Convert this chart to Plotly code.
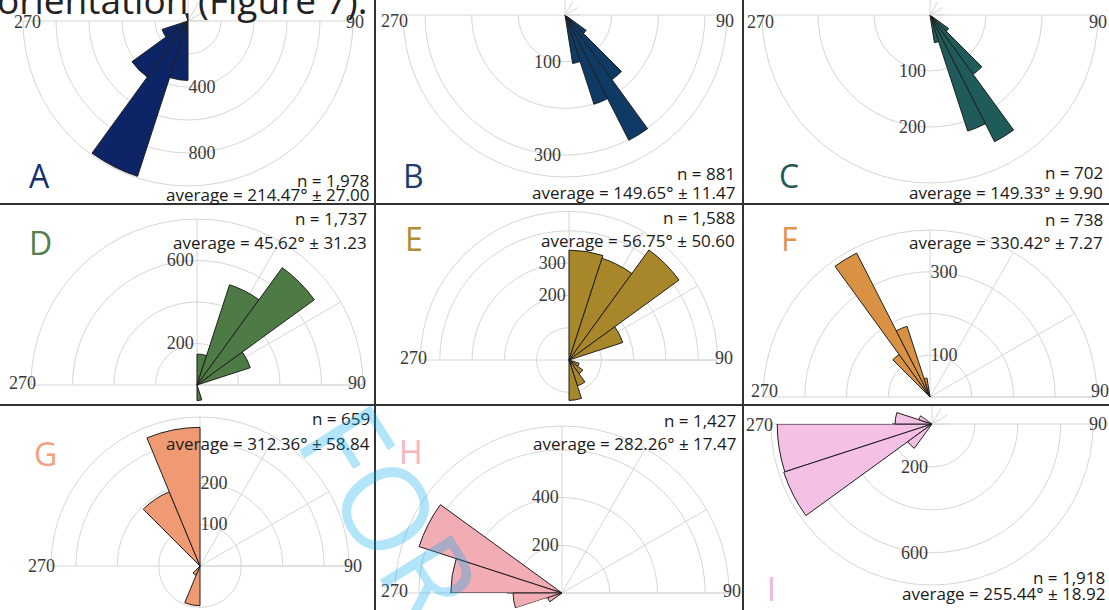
import numpy as np
import plotly.graph_objects as go

W, H = 1109, 610

# ---------------------------------------------------------------- data
panel_ids = ["A", "B", "C", "D", "E", "F", "G", "H", "I"]
n_obs = [1978, 881, 702, 1737, 1588, 738, 659, 1427, 1918]
mean_dir = [214.47, 149.65, 149.33, 45.62, 56.75, 330.42, 312.36, 282.26, 255.44]
sd_dir = [27.00, 11.47, 9.90, 31.23, 50.60, 7.27, 58.84, 17.47, 18.92]
bin_width = [18, 9, 9, 18, 18, 9, 22.5, 18, 18]

# bin centres (compass degrees) and counts per bin
a_theta = [189, 207, 225, 243, 351]
a_count = [360, 990, 420, 165, 45]
b_theta = [130.5, 139.5, 148.5, 157.5, 166.5]
b_count = [56, 171, 301, 201, 105]
c_theta = [130.5, 139.5, 148.5, 157.5, 166.5]
c_count = [41, 131, 254, 218, 50]
d_theta = [9, 27, 45, 63, 171]
d_count = [149, 508, 699, 270, 75]
e_theta = [9, 27, 45, 63, 117, 135, 153, 171]
e_count = [340, 331, 421, 175, 33, 53, 84, 125]
f_theta = [319.5, 328.5, 337.5, 346.5]
f_count = [126, 387, 178, 46]
g_theta = [326.25, 348.75, 191.25, 213.75]
g_count = [194, 335, 96, 24]
h_theta = [297, 279, 261, 243]
h_count = [630, 466, 205, 63]
i_theta = [261, 243, 225, 279, 297]
i_count = [721, 726, 140, 172, 65]

# radial rings and which of them carry a label
a_rings, a_ring_text = [200, 400, 600, 800], ["", "400", "", "800"]
b_rings, b_ring_text = [100, 200, 300], ["100", "", "300"]
c_rings, c_ring_text = [100, 200], ["100", "200"]
d_rings, d_ring_text = [200, 400, 600], ["200", "", "600"]
e_rings, e_ring_text = [100, 200, 300, 400], ["", "200", "300", ""]
f_rings, f_ring_text = [100, 200, 300], ["100", "", "300"]
g_rings, g_ring_text = [100, 200, 300], ["100", "200", ""]
h_rings, h_ring_text = [200, 400, 600], ["200", "400", ""]
i_rings, i_ring_text = [200, 400, 600], ["200", "", "600"]

# radial axis maximum of each rose
r_max = [1000, 347, 300, 800, 460, 400, 360, 700, 750]

thetas = [a_theta, b_theta, c_theta, d_theta, e_theta, f_theta, g_theta, h_theta, i_theta]
counts = [a_count, b_count, c_count, d_count, e_count, f_count, g_count, h_count, i_count]
rings = [a_rings, b_rings, c_rings, d_rings, e_rings, f_rings, g_rings, h_rings, i_rings]
ring_text = [a_ring_text, b_ring_text, c_ring_text, d_ring_text, e_ring_text,
             f_ring_text, g_ring_text, h_ring_text, i_ring_text]

# ---------------------------------------------------------------- style
GRID = "#d6d6d6"
EDGE = "#1e1e1e"
SANS = "Open Sans"
SERIF = "Liberation Serif"

bar_colors = ["#0d2566", "#103a66", "#1f5b58", "#4e7a45", "#a8872a",
              "#d99244", "#f09a74", "#f2acb3", "#f4c0e4"]
letter_colors = ["#1a2e6e", "#1c3f6b", "#1f5b58", "#557f4b", "#b08d30",
                 "#e0954a", "#f2a07e", "#f5b5bb", "#e9b6dc"]

# placement of each rose: centre (px), outer radius (px), opening, label side,
# plus the thin slices of the opposite half that stay visible inside the panel
geom = [
    dict(c=(188, 21), R=165, up=False, side="counterclockwise",
         bands=[((0, 180), 21)]),
    dict(c=(565, 15), R=162, up=False, side="clockwise",
         bands=[((0, 180), 15)]),
    dict(c=(930, 15), R=168, up=False, side="clockwise",
         bands=[((0, 180), 15)]),
    dict(c=(197, 385), R=166, up=True, side="counterclockwise",
         bands=[((180, 360), 19)]),
    dict(c=(569, 360), R=148.6, up=True, side="counterclockwise",
         bands=[((180, 360), 44)]),
    dict(c=(930, 397), R=167, up=True, side="clockwise",
         bands=[((180, 360), 8)]),
    dict(c=(200, 566), R=149, up=True, side="clockwise",
         bands=[((180, 360), 44)]),
    dict(c=(562, 593), R=167, up=True, side="counterclockwise",
         bands=[((180, 198), 55), ((198, 360), 17)]),
    dict(c=(932, 424), R=161, up=False, side="clockwise",
         bands=[((144, 180), 40), ((0, 144), 18)]),
]

letter_pos = [(39, 176), (413, 176), (789, 176), (40, 243), (414, 238),
              (789, 238), (45, 453), (411, 451), (771, 588)]
stat_pos = [(371, 180, 194), (737, 173, 192), (1105, 172, 192),
            (369, 218, 243), (737, 217, 240), (1105, 220, 243),
            (372, 418, 443), (738, 420, 443), (1107, 577, 593)]
compass_pos = [((27, 22), (355, 22)), ((394, 21), (725, 21)), ((760, 22), (1098, 22)),
               ((22, 383), (357, 383)), ((413, 358), (724, 358)), ((764, 391), (1100, 391)),
               ((41, 566), (353, 566)), ((394, 591), (732, 591)), ((759, 425), (1098, 424))]


def sector_bbox(s0, s1):
    """Unit bounding box of a pie sector, centre included."""
    angs = [s0, s1] + [a for a in (0, 90, 180, 270, 360) if s0 < a < s1]
    xs = [0.0] + [np.cos(np.radians(a)) for a in angs]
    ys = [0.0] + [np.sin(np.radians(a)) for a in angs]
    return min(xs), min(ys), max(xs), max(ys)


def polar_domain(cx, cy, R, sector):
    x0, y0, x1, y1 = sector_bbox(*sector)
    left, right = cx + R * x0, cx + R * x1
    top, bottom = cy - R * y1, cy - R * y0
    cl = lambda v: float(min(1.0, max(0.0, v)))
    return dict(x=[cl(left / W), cl(right / W)], y=[cl(1 - bottom / H), cl(1 - top / H)])


fig = go.Figure()
layout = dict(
    width=W, height=H, margin=dict(l=0, r=0, t=0, b=0),
    paper_bgcolor="white", plot_bgcolor="white", template="none",
    showlegend=False, annotations=[], shapes=[],
)

k = 0
for p in range(9):
    g = geom[p]
    cx, cy = g["c"]
    R = g["R"]
    scale = R / r_max[p]
    main_sector = (0, 180) if g["up"] else (180, 360)
    polars = [(main_sector, R, True)] + [(s, rr, False) for s, rr in g["bands"]]
    for sector, rad, is_main in polars:
        k += 1
        name = "polar" if k == 1 else f"polar{k}"
        fig.add_trace(go.Barpolar(
            theta=thetas[p], r=counts[p], width=bin_width[p],
            marker=dict(color=bar_colors[p], line=dict(color=EDGE, width=1)),
            subplot=name, hoverinfo="skip", showlegend=False,
        ))
        layout[name] = dict(
            domain=polar_domain(cx, cy, rad, sector),
            sector=list(sector),
            bgcolor="rgba(0,0,0,0)",
            angularaxis=dict(
                rotation=90, direction="clockwise",
                tickmode="array", tickvals=list(range(0, 360, 30)),
                showticklabels=False, ticks="",
                showgrid=True, gridcolor=GRID, gridwidth=1,
                showline=is_main, linecolor=GRID, linewidth=1,
                layer="below traces",
            ),
            radialaxis=dict(
                range=[0, rad / scale],
                tickmode="array", tickvals=rings[p], ticktext=ring_text[p],
                showticklabels=is_main, ticks="",
                showgrid=True, gridcolor=GRID, gridwidth=1,
                showline=False,
                angle=90 if g["up"] else 270,
                side=g["side"],
                tickangle=90 if g["up"] else -90,
                tickfont=dict(family=SERIF, size=18, color="#3a3a3a"),
                layer="below traces",
            ),
        )

ann = layout["annotations"]
for p in range(9):
    lx, ly = letter_pos[p]
    ann.append(dict(text=panel_ids[p], x=lx / W, y=1 - ly / H, xref="paper", yref="paper",
                    xanchor="center", yanchor="middle", showarrow=False,
                    font=dict(family=SANS, size=32, color=letter_colors[p])))
    rx, ny, ay = stat_pos[p]
    ann.append(dict(text=f"n = {n_obs[p]:,}", x=rx / W, y=1 - ny / H, xref="paper",
                    yref="paper", xanchor="right", yanchor="middle", showarrow=False,
                    font=dict(family=SANS, size=17, color="#1a1a1a")))
    ann.append(dict(text=f"average = {mean_dir[p]:.2f}° ± {sd_dir[p]:.2f}", x=rx / W,
                    y=1 - ay / H, xref="paper", yref="paper", xanchor="right",
                    yanchor="middle", showarrow=False,
                    font=dict(family=SANS, size=17, color="#1a1a1a")))
    (wx, wy), (ex, ey) = compass_pos[p]
    for txt, tx, ty in (("270", wx, wy), ("90", ex, ey)):
        ann.append(dict(text=txt, x=tx / W, y=1 - ty / H, xref="paper", yref="paper",
                        xanchor="center", yanchor="middle", showarrow=False,
                        font=dict(family=SERIF, size=18, color="#3a3a3a")))

# running text of the page above the figure and the review watermark
ann.append(dict(text="orientation (Figure 7).", x=-5 / W, y=1 + 1 / H, xref="paper",
                yref="paper", xanchor="left", yanchor="middle", showarrow=False,
                font=dict(family=SANS, size=37, color="#222222")))
ann.append(dict(text="FOR", x=392 / W, y=1 - 512 / H, xref="paper", yref="paper",
                xanchor="center", yanchor="middle", showarrow=False, textangle=58,
                font=dict(family=SANS, size=118, color="rgba(0,170,240,0.30)")))

# panel frame lines
for x in (375, 743):
    layout["shapes"].append(dict(type="line", xref="paper", yref="paper",
                                 x0=x / W, x1=x / W, y0=0, y1=1,
                                 line=dict(color="#333333", width=2), layer="above"))
for y in (204, 405):
    layout["shapes"].append(dict(type="line", xref="paper", yref="paper",
                                 x0=0, x1=1, y0=1 - y / H, y1=1 - y / H,
                                 line=dict(color="#333333", width=2), layer="above"))

fig.update_layout(**layout)
fig.write_html("out.html")
